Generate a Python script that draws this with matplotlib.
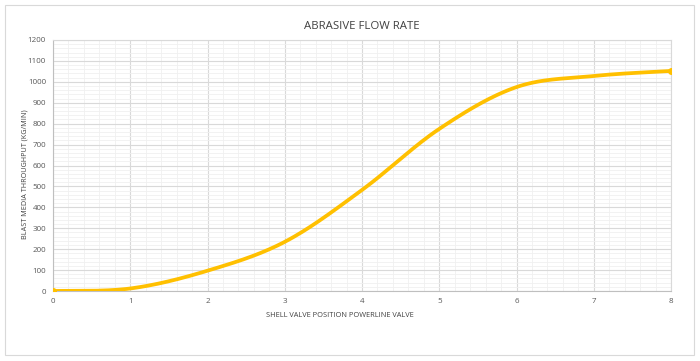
import numpy as np
import matplotlib
matplotlib.use("Agg")
import matplotlib.pyplot as plt
from matplotlib.patches import Rectangle
from matplotlib.ticker import MultipleLocator

positions = [0, 1, 2, 3, 4, 5, 6, 7, 8]
throughput = [0, 12, 97, 235, 483, 775, 975, 1028, 1052]

title = "ABRASIVE FLOW RATE"
xlabel = "SHELL VALVE POSITION POWERLINE VALVE"
ylabel = "BLAST MEDIA THROUGHPUT (KG/MIN)"

plt.rcParams['font.family'] = ['Open Sans', 'DejaVu Sans']


def smooth(xs, ys, n=40):
    # Catmull-Rom style cubic Bezier smoothing (like spreadsheet "smoothed line")
    xs = np.asarray(xs, float)
    ys = np.asarray(ys, float)
    px = np.concatenate([[xs[0]], xs, [xs[-1]]])
    py = np.concatenate([[ys[0]], ys, [ys[-1]]])
    outx, outy = [], []
    t = np.linspace(0, 1, n)
    for i in range(1, len(px) - 2):
        p0 = np.array([px[i], py[i]])
        p3 = np.array([px[i + 1], py[i + 1]])
        p1 = p0 + (np.array([px[i + 1], py[i + 1]]) - np.array([px[i - 1], py[i - 1]])) / 6
        p2 = p3 - (np.array([px[i + 2], py[i + 2]]) - np.array([px[i], py[i]])) / 6
        b = ((1 - t) ** 3)[:, None] * p0 + (3 * (1 - t) ** 2 * t)[:, None] * p1 \
            + (3 * (1 - t) * t ** 2)[:, None] * p2 + (t ** 3)[:, None] * p3
        outx.extend(b[:, 0])
        outy.extend(b[:, 1])
    return np.array(outx), np.array(outy)


fig = plt.figure(figsize=(7.0, 3.61), dpi=100)
fig.patches.append(Rectangle((5 / 700, 1 - 355 / 361), 689 / 700, 350 / 361,
                             transform=fig.transFigure, fill=False,
                             edgecolor='#d9d9d9', linewidth=0.8))
ax = fig.add_axes([53 / 700, 1 - 291 / 361, 618 / 700, 251 / 361])

sx, sy = smooth(positions, throughput)
ax.plot(sx, sy, color='#FFC000', linewidth=2.7, solid_capstyle='round', zorder=3)
ax.plot([positions[0], positions[-1]], [throughput[0], throughput[-1]], 'o',
        color='#FFC000', markersize=4, zorder=4)

ax.set_xlim(0, 8)
ax.set_ylim(0, 1200)
ax.xaxis.set_major_locator(MultipleLocator(1))
ax.xaxis.set_minor_locator(MultipleLocator(0.2))
ax.yaxis.set_major_locator(MultipleLocator(100))
ax.yaxis.set_minor_locator(MultipleLocator(20))
ax.grid(which='major', color='#d9d9d9', linewidth=0.8)
ax.grid(which='minor', color='#f0f0f0', linewidth=0.6)
ax.set_axisbelow(True)
for s in ['top', 'right']:
    ax.spines[s].set_color('#d9d9d9')
    ax.spines[s].set_linewidth(0.8)
for s in ['left', 'bottom']:
    ax.spines[s].set_color('#bfbfbf')
    ax.spines[s].set_linewidth(0.8)
ax.tick_params(which='both', length=0, labelsize=5.8, labelcolor='#595959', pad=5)

ax.set_title(title, fontsize=8.2, color='#404040', pad=8)
ax.set_xlabel(xlabel, fontsize=5.3, color='#404040', labelpad=6)
ax.set_ylabel(ylabel, fontsize=5.2, color='#404040', labelpad=2)
ax.xaxis.set_label_coords(0.464, -0.085)
ax.yaxis.set_label_coords(-0.039, 0.466)

fig.savefig("out.png", dpi=100)
